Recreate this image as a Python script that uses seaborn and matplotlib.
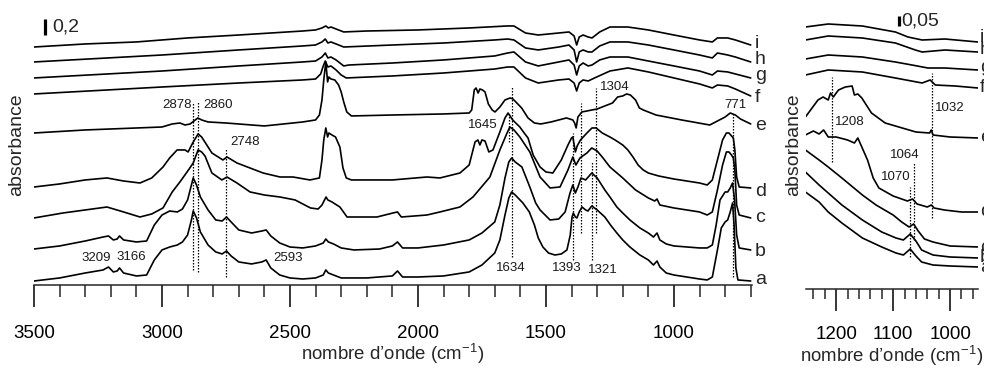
import matplotlib
matplotlib.use("Agg")
import matplotlib.pyplot as plt
import matplotlib.transforms as mtransforms
from matplotlib.ticker import MultipleLocator
import pandas as pd
import seaborn as sns

# ---------------- data: left panel (wavenumber cm-1, stacked absorbance) ----------------
left_i = [(3500, 2.975), (3300, 3.013), (3100, 3.038), (2900, 3.088), (2700, 3.125), (2450, 3.175),
          (2400, 3.188), (2375, 3.213), (2360, 3.238), (2350, 3.213), (2340, 3.225), (2320, 3.2),
          (2290, 3.163), (2200, 3.175), (2000, 3.188), (1800, 3.213), (1650, 3.238), (1625, 3.238),
          (1580, 3.15), (1530, 3.125), (1450, 3.15), (1410, 3.163), (1390, 3.113), (1380, 3.0),
          (1370, 3.1), (1355, 3.125), (1335, 3.1), (1320, 3.088), (1290, 3.163), (1250, 3.225),
          (1180, 3.225), (1100, 3.188), (1000, 3.125), (900, 3.063), (850, 3.038), (830, 3.088),
          (790, 3.088), (760, 3.063), (700, 3.0)]
left_h = [(3500, 2.788), (3000, 2.875), (2700, 2.938), (2450, 2.988), (2400, 3.0), (2375, 3.038),
          (2362, 3.075), (2352, 3.025), (2340, 3.038), (2320, 3.013), (2290, 2.975), (2100, 3.0),
          (1900, 3.025), (1700, 3.063), (1650, 3.075), (1625, 3.063), (1580, 2.963), (1530, 2.938),
          (1450, 2.975), (1410, 3.0), (1390, 2.938), (1380, 2.788), (1370, 2.913), (1355, 2.938),
          (1335, 2.913), (1320, 2.913), (1290, 2.988), (1250, 3.038), (1180, 3.038), (1100, 3.0),
          (1000, 2.938), (900, 2.875), (850, 2.838), (830, 2.9), (790, 2.875), (760, 2.85), (700, 2.788)]
left_g = [(3500, 2.588), (3000, 2.675), (2700, 2.738), (2450, 2.788), (2400, 2.8), (2375, 2.85),
          (2362, 2.9), (2352, 2.838), (2340, 2.85), (2320, 2.813), (2290, 2.738), (2270, 2.75),
          (2100, 2.775), (1900, 2.813), (1700, 2.863), (1650, 2.9), (1625, 2.913), (1580, 2.788),
          (1530, 2.738), (1450, 2.788), (1410, 2.813), (1390, 2.75), (1380, 2.625), (1370, 2.738),
          (1355, 2.775), (1335, 2.738), (1320, 2.75), (1290, 2.813), (1250, 2.85), (1180, 2.85),
          (1100, 2.8), (1000, 2.738), (900, 2.675), (850, 2.625), (830, 2.675), (790, 2.663),
          (760, 2.638), (700, 2.588)]
left_f = [(3500, 2.388), (3000, 2.475), (2700, 2.525), (2450, 2.563), (2400, 2.575), (2380, 2.638),
          (2370, 2.738), (2362, 2.8), (2352, 2.725), (2340, 2.738), (2320, 2.688), (2300, 2.625),
          (2280, 2.588), (2100, 2.613), (1900, 2.65), (1700, 2.7), (1650, 2.725), (1625, 2.725),
          (1580, 2.588), (1530, 2.525), (1450, 2.563), (1410, 2.575), (1390, 2.525), (1380, 2.425),
          (1370, 2.525), (1355, 2.563), (1335, 2.55), (1310, 2.588), (1250, 2.675), (1180, 2.713),
          (1100, 2.663), (1000, 2.588), (900, 2.513), (850, 2.463), (830, 2.5), (790, 2.488),
          (760, 2.45), (700, 2.363)]
left_e = [(3500, 1.9), (3300, 1.938), (3000, 1.975), (2960, 2.013), (2930, 2.025), (2910, 2.0),
          (2890, 2.013), (2870, 2.063), (2860, 2.088), (2845, 2.063), (2820, 2.038), (2750, 2.025),
          (2600, 1.988), (2450, 2.038), (2400, 2.063), (2385, 2.125), (2375, 2.313), (2368, 2.563),
          (2360, 2.788), (2353, 2.538), (2348, 2.6), (2340, 2.575), (2325, 2.563), (2310, 2.5),
          (2300, 2.413), (2290, 2.288), (2278, 2.163), (2260, 2.113), (2100, 2.125), (1900, 2.138),
          (1800, 2.15), (1790, 2.188), (1780, 2.438), (1773, 2.463), (1765, 2.4), (1758, 2.45),
          (1748, 2.438), (1738, 2.413), (1725, 2.263), (1710, 2.188), (1699, 2.163), (1680, 2.225),
          (1660, 2.313), (1640, 2.338), (1629, 2.325), (1610, 2.263), (1595, 2.213), (1570, 2.088),
          (1545, 2.025), (1520, 2.013), (1480, 2.038), (1420, 2.088), (1395, 2.063), (1388, 2.025),
          (1382, 1.963), (1375, 2.1), (1360, 2.163), (1340, 2.175), (1320, 2.188), (1300, 2.2),
          (1270, 2.238), (1240, 2.275), (1220, 2.35), (1200, 2.363), (1185, 2.388), (1170, 2.375),
          (1150, 2.313), (1135, 2.213), (1120, 2.188), (1070, 2.125), (970, 2.063), (860, 2.0),
          (800, 2.1), (780, 2.15), (760, 2.125), (740, 2.075), (700, 2.013)]
left_d = [(3500, 1.225), (3400, 1.263), (3300, 1.313), (3215, 1.338), (3150, 1.3), (3086, 1.275),
          (3040, 1.338), (2996, 1.475), (2970, 1.588), (2941, 1.688), (2910, 1.688), (2898, 1.663),
          (2880, 1.775), (2859, 1.888), (2845, 1.85), (2805, 1.65), (2762, 1.563), (2746, 1.6),
          (2707, 1.525), (2605, 1.4), (2539, 1.35), (2488, 1.35), (2422, 1.313), (2385, 1.338),
          (2375, 1.563), (2368, 1.813), (2360, 1.963), (2353, 1.85), (2348, 1.9), (2336, 1.875),
          (2322, 1.85), (2305, 1.725), (2293, 1.463), (2280, 1.338), (2260, 1.313), (2100, 1.313),
          (1965, 1.35), (1914, 1.338), (1836, 1.4), (1800, 1.5), (1785, 1.688), (1777, 1.788),
          (1766, 1.813), (1758, 1.75), (1750, 1.813), (1738, 1.8), (1723, 1.663), (1707, 1.688),
          (1680, 1.913), (1660, 2.088), (1648, 2.15), (1630, 2.063), (1602, 1.975), (1585, 1.9),
          (1570, 1.838), (1550, 1.625), (1523, 1.475), (1500, 1.413), (1473, 1.4), (1440, 1.563),
          (1414, 1.75), (1400, 1.838), (1395, 1.85), (1385, 1.663), (1378, 1.738), (1365, 1.813),
          (1340, 1.9), (1320, 1.963), (1304, 1.963), (1280, 1.9), (1250, 1.85), (1230, 1.813),
          (1200, 1.75), (1180, 1.688), (1160, 1.6), (1140, 1.5), (1120, 1.438), (1100, 1.4),
          (1060, 1.363), (1000, 1.325), (900, 1.275), (870, 1.25), (850, 1.313), (830, 1.563),
          (810, 1.813), (795, 1.9), (785, 1.9), (775, 1.863), (768, 1.838), (762, 1.688),
          (755, 1.35), (745, 1.225), (700, 1.213)]
left_c = [(3500, 0.838), (3387, 0.9), (3215, 0.975), (3150, 0.913), (3086, 0.85), (3040, 0.888),
          (2996, 0.963), (2960, 1.163), (2930, 1.288), (2902, 1.413), (2878, 1.525), (2859, 1.688),
          (2845, 1.663), (2832, 1.613), (2805, 1.4), (2766, 1.313), (2746, 1.35), (2707, 1.275),
          (2656, 1.163), (2600, 1.125), (2539, 1.1), (2480, 1.063), (2420, 0.963), (2390, 0.95),
          (2375, 1.0), (2365, 1.063), (2359, 1.1), (2352, 1.063), (2336, 1.038), (2305, 0.975),
          (2277, 0.85), (2160, 0.85), (2098, 0.9), (2080, 0.913), (2065, 0.85), (1965, 0.875),
          (1914, 0.913), (1836, 0.975), (1785, 1.1), (1719, 1.35), (1680, 1.688), (1652, 1.9),
          (1641, 1.975), (1625, 1.938), (1602, 1.85), (1563, 1.663), (1523, 1.35), (1484, 1.213),
          (1445, 1.225), (1414, 1.438), (1395, 1.6), (1383, 1.5), (1367, 1.588), (1340, 1.65),
          (1321, 1.713), (1300, 1.675), (1280, 1.6), (1250, 1.475), (1200, 1.338), (1150, 1.188),
          (1100, 1.088), (1075, 1.05), (1066, 1.075), (1055, 1.0), (1000, 0.963), (900, 0.913),
          (870, 0.875), (850, 0.913), (830, 1.188), (810, 1.5), (795, 1.663), (785, 1.663),
          (775, 1.625), (768, 1.588), (762, 1.438), (755, 1.0), (745, 0.875), (700, 0.838)]
left_b = [(3500, 0.45), (3400, 0.488), (3300, 0.55), (3230, 0.6), (3209, 0.613), (3190, 0.563),
          (3175, 0.575), (3166, 0.613), (3150, 0.563), (3100, 0.538), (3060, 0.55), (3030, 0.75),
          (3000, 0.875), (2970, 0.925), (2940, 0.913), (2920, 0.95), (2900, 1.063), (2885, 1.25),
          (2878, 1.338), (2865, 1.25), (2850, 1.1), (2820, 0.938), (2790, 0.813), (2765, 0.8),
          (2748, 0.85), (2730, 0.788), (2700, 0.688), (2650, 0.65), (2610, 0.675), (2593, 0.688),
          (2575, 0.613), (2540, 0.525), (2500, 0.475), (2450, 0.463), (2400, 0.488), (2370, 0.525),
          (2360, 0.575), (2350, 0.538), (2330, 0.513), (2300, 0.463), (2250, 0.438), (2150, 0.45),
          (2100, 0.488), (2080, 0.538), (2060, 0.463), (2000, 0.463), (1900, 0.5), (1800, 0.563),
          (1750, 0.65), (1700, 0.788), (1680, 1.0), (1660, 1.338), (1645, 1.538), (1634, 1.588),
          (1620, 1.538), (1594, 1.475), (1563, 1.225), (1540, 1.025), (1523, 0.938), (1484, 0.813),
          (1450, 0.825), (1425, 0.913), (1406, 1.15), (1395, 1.25), (1385, 1.15), (1375, 1.225),
          (1363, 1.338), (1345, 1.313), (1321, 1.4), (1300, 1.338), (1270, 1.188), (1250, 1.1),
          (1223, 0.975), (1200, 0.9), (1172, 0.813), (1133, 0.713), (1100, 0.65), (1080, 0.6),
          (1066, 0.65), (1055, 0.563), (1030, 0.513), (1000, 0.488), (900, 0.463), (870, 0.463),
          (850, 0.5), (835, 0.75), (820, 1.063), (800, 1.163), (790, 1.163), (780, 1.213),
          (771, 1.275), (763, 1.063), (755, 0.625), (745, 0.463), (700, 0.438)]
left_a = [(3500, 0.05), (3400, 0.088), (3300, 0.15), (3230, 0.188), (3209, 0.225), (3190, 0.163),
          (3175, 0.175), (3166, 0.213), (3150, 0.15), (3100, 0.113), (3060, 0.125), (3030, 0.313),
          (3000, 0.438), (2970, 0.475), (2940, 0.5), (2920, 0.538), (2900, 0.625), (2885, 0.813),
          (2878, 0.925), (2865, 0.838), (2850, 0.663), (2820, 0.5), (2790, 0.413), (2765, 0.388),
          (2748, 0.425), (2730, 0.363), (2700, 0.288), (2650, 0.263), (2610, 0.288), (2593, 0.313),
          (2575, 0.213), (2540, 0.125), (2500, 0.088), (2450, 0.075), (2400, 0.088), (2370, 0.125),
          (2360, 0.188), (2350, 0.15), (2330, 0.125), (2300, 0.088), (2200, 0.088), (2100, 0.113),
          (2080, 0.175), (2060, 0.1), (2000, 0.1), (1900, 0.113), (1800, 0.163), (1750, 0.25),
          (1700, 0.4), (1680, 0.563), (1660, 0.875), (1645, 1.088), (1634, 1.163), (1620, 1.125),
          (1590, 1.025), (1565, 0.913), (1545, 0.75), (1530, 0.588), (1512, 0.475), (1490, 0.4),
          (1465, 0.375), (1440, 0.388), (1418, 0.438), (1405, 0.625), (1398, 0.85), (1393, 0.9),
          (1385, 0.85), (1379, 0.838), (1370, 0.913), (1359, 0.975), (1345, 0.938), (1336, 0.925),
          (1321, 0.988), (1300, 0.938), (1270, 0.85), (1245, 0.738), (1223, 0.65), (1200, 0.563),
          (1172, 0.475), (1133, 0.375), (1100, 0.313), (1080, 0.25), (1066, 0.3), (1055, 0.225),
          (1030, 0.15), (1000, 0.125), (900, 0.075), (870, 0.063), (850, 0.1), (830, 0.438),
          (815, 0.713), (800, 0.788), (790, 0.813), (780, 0.913), (771, 1.025), (765, 0.75),
          (758, 0.213), (750, 0.063), (700, 0.05)]

# ---------------- data: right panel (zoom 1250-950 cm-1) ----------------
right_i = [(1254, 1.29), (1214, 1.305), (1154, 1.295), (1096, 1.265), (1074, 1.24), (1049, 1.225),
           (1009, 1.23), (951, 1.215)]
right_h = [(1254, 1.225), (1214, 1.245), (1154, 1.235), (1096, 1.21), (1061, 1.175), (1049, 1.165),
           (1009, 1.175), (951, 1.165)]
right_g = [(1254, 1.13), (1214, 1.15), (1154, 1.14), (1096, 1.115), (1067, 1.1), (1039, 1.085),
           (1009, 1.085), (951, 1.075)]
right_f = [(1254, 1.05), (1214, 1.075), (1154, 1.065), (1096, 1.035), (1049, 1.01), (1035, 1.025),
           (1026, 1.0), (991, 0.995), (951, 0.985)]
right_e = [(1254, 0.84), (1232, 0.925), (1223, 0.94), (1214, 0.925), (1210, 0.96), (1205, 0.94),
           (1196, 0.975), (1184, 0.99), (1172, 0.995), (1168, 0.95), (1162, 0.955), (1155, 0.935),
           (1138, 0.86), (1114, 0.81), (1090, 0.79), (1060, 0.765), (1036, 0.76), (1033, 0.775),
           (1030, 0.75), (1000, 0.74), (950, 0.735)]
right_d = [(1254, 0.75), (1240, 0.77), (1230, 0.755), (1222, 0.775), (1214, 0.74), (1200, 0.74),
           (1180, 0.725), (1168, 0.71), (1162, 0.735), (1155, 0.69), (1145, 0.625), (1135, 0.535),
           (1125, 0.485), (1100, 0.445), (1075, 0.42), (1066, 0.43), (1058, 0.405), (1040, 0.39),
           (1033, 0.4), (1028, 0.385), (1010, 0.375), (980, 0.365), (950, 0.365)]
right_c = [(1254, 0.675), (1230, 0.625), (1214, 0.59), (1190, 0.535), (1154, 0.45), (1130, 0.4),
           (1100, 0.35), (1085, 0.315), (1072, 0.29), (1064, 0.305), (1056, 0.27), (1045, 0.23),
           (1030, 0.215), (1000, 0.195), (950, 0.19)]
right_b = [(1254, 0.565), (1230, 0.5), (1214, 0.46), (1190, 0.4), (1154, 0.325), (1120, 0.265),
           (1095, 0.235), (1082, 0.225), (1070, 0.255), (1060, 0.22), (1050, 0.175), (1030, 0.15),
           (1000, 0.14), (950, 0.135)]
right_a = [(1254, 0.465), (1230, 0.415), (1214, 0.365), (1190, 0.31), (1154, 0.235), (1120, 0.19),
           (1095, 0.16), (1082, 0.15), (1070, 0.18), (1060, 0.145), (1050, 0.115), (1030, 0.1),
           (1000, 0.095), (950, 0.09)]

spectrum_names = ["a", "b", "c", "d", "e", "f", "g", "h", "i"]
left_label_y = [0.063, 0.425, 0.838, 1.175, 1.988, 2.338, 2.613, 2.813, 3.025]
right_label_y = [0.09, 0.135, 0.19, 0.365, 0.74, 0.985, 1.085, 1.175, 1.24]

# dotted marker lines: (wavenumber, top, bottom)
left_markers = [(2878, 2.288, 0.188), (2860, 2.288, 0.163), (2748, 1.713, 0.1), (1645, 2.15, 1.788),
                (1634, 2.488, 0.35), (1393, 1.9, 0.313), (1363, 2.275, 0.65), (1321, 1.538, 0.313),
                (1304, 2.463, 0.65), (771, 2.15, 0.1)]
# peak labels: (text, wavenumber, y, alignment)
left_peak_labels = [("2878", 2885, 2.25, "right"), ("2860", 2840, 2.25, "left"),
                    ("2748", 2734, 1.788, "left"), ("3209", 3258, 0.338, "center"),
                    ("3166", 3121, 0.35, "center"), ("2593", 2508, 0.338, "center"),
                    ("1645", 1746, 2.0, "center"), ("1634", 1637, 0.213, "center"),
                    ("1393", 1418, 0.213, "center"), ("1321", 1277, 0.188, "center"),
                    ("1304", 1289, 2.475, "left"), ("771", 758, 2.25, "center")]
right_markers = [(1208, 1.04, 0.615), (1032, 1.06, 0.335), (1064, 0.61, 0.225), (1070, 0.49, 0.14)]
right_peak_labels = [("1208", 1202, 0.815, "left"), ("1032", 1026, 0.885, "left"),
                     ("1064", 1079, 0.65, "center"), ("1070", 1095, 0.54, "center")]

left_scale = (3457, 3.125, 0.2, "0,2")
right_scale = (1090, 1.295, 0.05, "0,05")


def to_frame(series_list):
    rows = []
    for name, pts in zip(spectrum_names, series_list):
        for k, (w, a) in enumerate(pts):
            rows.append({"spec": name, "order": k, "wn": w, "A": a})
    return pd.DataFrame(rows)


df_left = to_frame([left_a, left_b, left_c, left_d, left_e, left_f, left_g, left_h, left_i])
df_right = to_frame([right_a, right_b, right_c, right_d, right_e, right_f, right_g, right_h, right_i])

sns.set_theme(style="ticks")
plt.rcParams["font.family"] = ["Liberation Sans", "DejaVu Sans"]
plt.rcParams["mathtext.fontset"] = "custom"
plt.rcParams["mathtext.rm"] = "Liberation Sans"

fig = plt.figure(figsize=(9.84, 3.72), dpi=100)
axL = fig.add_axes([34 / 984, 87 / 372, 718 / 984, 280 / 372])
axR = fig.add_axes([806 / 984, 87 / 372, 172 / 984, 280 / 372])

TICK_FS = 13.5
XLAB_FS = 13.4
YLAB_FS = 14
LETTER_FS = 14
PEAK_FS = 9.5
LW = 1.2


def style_axis(ax, xlim, ylim, major, minor, ylabel_x, spine_out, minor_len, pad):
    ax.set_xlim(*xlim)
    ax.set_ylim(*ylim)
    for s in ("left", "right", "top"):
        ax.spines[s].set_visible(False)
    ax.spines["bottom"].set_linewidth(1.1)
    ax.spines["bottom"].set_position(("outward", spine_out))
    ax.xaxis.set_major_locator(MultipleLocator(major))
    ax.xaxis.set_minor_locator(MultipleLocator(minor))
    ax.tick_params(axis="x", which="major", length=16, width=1.1, direction="out",
                   pad=pad, labelsize=TICK_FS, colors="black")
    ax.tick_params(axis="x", which="minor", length=minor_len, width=1.1, direction="out")
    ax.set_yticks([])
    ax.set_xlabel("nombre d\u2019onde (cm$^{\\mathregular{-1}}$)", fontsize=XLAB_FS, labelpad=0)
    ax.set_ylabel("absorbance", fontsize=YLAB_FS)
    ax.yaxis.set_label_coords(ylabel_x, 0.5)
    ax.set_facecolor("none")


def draw_panel(ax, df, markers, peak_labels, label_y, label_xfrac, scale, gap_pt):
    sns.lineplot(data=df, x="wn", y="A", units="spec", estimator=None, sort=False,
                 color="black", lw=LW, ax=ax, legend=False)
    for w, top, bot in markers:
        ax.vlines(w, bot, top, colors="black", linestyles=(0, (1.2, 1.2)), lw=0.9)
    for txt, w, y, ha in peak_labels:
        ax.text(w, y, txt, fontsize=PEAK_FS, ha=ha, va="center", color="#1a1a1a")
    trans = mtransforms.blended_transform_factory(ax.transAxes, ax.transData)
    for name, y in zip(spectrum_names, label_y):
        ax.text(label_xfrac, y, name, transform=trans, fontsize=LETTER_FS, ha="left",
                va="center", clip_on=False)
    w, y0, h, txt = scale
    ax.vlines(w, y0, y0 + h, colors="black", lw=2.3)
    ax.annotate(txt, xy=(w, y0 + h / 2), xytext=(gap_pt, 0), textcoords="offset points",
                fontsize=14, ha="left", va="center")


draw_panel(axL, df_left, left_markers, left_peak_labels, left_label_y, 1.004, left_scale, 5)
draw_panel(axR, df_right, right_markers, right_peak_labels, right_label_y, 1.012, right_scale, 2)
style_axis(axL, (3500, 695), (0, 3.5), 500, 100, -0.0125, 0, 8.5, 12.5)
style_axis(axR, (1253, 951), (0, 1.4), 100, 20, -0.023, 3, 7, 10.5)

fig.savefig("out.png", dpi=100)
